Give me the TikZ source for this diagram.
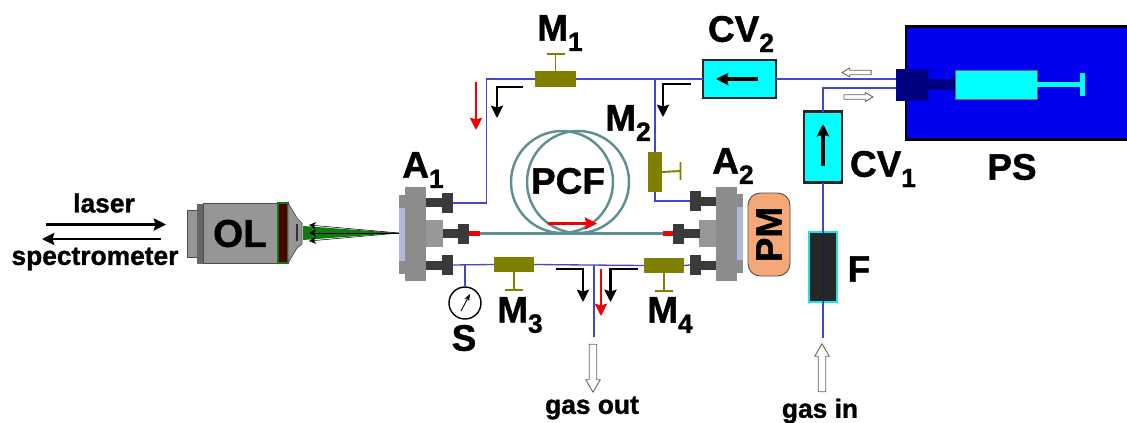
\documentclass[tikz,border=0pt]{standalone}
\usepackage{fontspec}
\setmainfont[BoldFeatures={FakeBold=1.2}]{Liberation Sans}
\usetikzlibrary{shapes.arrows, arrows.meta, positioning, calc}

\definecolor{tube}{HTML}{4646C8}
\definecolor{fibre}{HTML}{5F8F8F}
\definecolor{olive2}{HTML}{808000}
\definecolor{darkport}{HTML}{3A3A3A}
\definecolor{flangegray}{HTML}{8C8C8C}
\definecolor{window}{HTML}{B0BAD8}
\definecolor{pumpblue}{HTML}{0000F0}
\definecolor{pmorange}{HTML}{F4A878}
\definecolor{lensgreen}{HTML}{0F7A0F}
\definecolor{brightcyan}{HTML}{00FFFF}
\definecolor{pure red}{HTML}{F00000}
\definecolor{bodygray}{HTML}{969696}

\newcommand{\withsub}[2]{#1\raisebox{-0.28em}{\fontsize{15}{15}\selectfont #2}}

\begin{document}
\begin{tikzpicture}[
    x=0.02cm, y=-0.02cm,
    font=\fontsize{21}{21}\selectfont\bfseries,
    size/.style 2 args={rectangle, inner sep=0pt, outer sep=0pt, minimum width=#1*0.02cm, minimum height=#2*0.02cm},
    valve/.style={fill=olive2},
    check/.style={draw=black!85, line width=1.5pt, fill=brightcyan},
    head/.style={size={11}{20}, fill=darkport},
    shaft/.style={size={16}{9}, fill=darkport},
    flange/.style={size={21}{94}, fill=flangegray},
    plate/.style={size={6}{79}, fill=flangegray},
    glass/.style={size={6}{53}, fill=window},
    stepblock/.style={size={17}{27}, fill=flangegray!90},
    pipe/.style={draw=tube, line width=0.75pt},
    handle/.style={draw=olive2, line width=1.1pt},
    fibreline/.style={draw=fibre, line width=1.4pt},
    arrow/.style={-{Stealth[length=7pt,width=7pt,inset=1pt]}, line width=1.2pt},
    redarrow/.style={arrow, draw=pure red, fill=pure red},
    small/.style={font=\fontsize{15}{15}\selectfont\bfseries},
    hollow/.style={single arrow, draw=black!60, fill=white, line width=0.5pt, single arrow tip angle=60, single arrow head extend=3.5*0.02cm, inner sep=3.3*0.02cm, outer sep=0pt, minimum width=13.6*0.02cm}
]
\useasboundingbox (0,0) rectangle (1127,423);

% Objective
\node[size={10}{47}, fill=bodygray, draw=black!70, line width=0.4pt] (cap) at (192,233.5) {};
\node[size={6}{60}, fill=black!60, right=0pt of cap.east] (collar) {};
\node[size={74}{60}, fill=bodygray, draw=black!70, line width=0.4pt, right=0pt of collar.east, text=black, font=\fontsize{22}{22}\selectfont\bfseries] (OL) {OL};
\node[size={10}{60}, fill=black!70!red, draw=lensgreen, line width=0.8pt] (ring) at (283,233) {};
\draw[fill=bodygray, draw=black!70, line width=0.4pt] (ring.north east) -- (297,218) -- (302,223) -- (302,244) -- (297,248) -- (ring.south east) -- cycle;
\node[size={1.5}{17}, fill=black!80] (nose) at (297,232) {};

% Focused beam
\coordinate (focus) at (399,233);
\coordinate (beamtop) at (303,226);
\coordinate (beambot) at (303,240);
\fill[white] (beamtop) -- (309,224) -- (focus) -- (309,242) -- (beambot) -- cycle;
\fill[lensgreen] (beamtop) -- (focus) -- (beambot) -- cycle;
\draw[-{Stealth[length=4pt,width=4pt]}, line width=0.3pt] (focus) -- (309,225);
\draw[-{Stealth[length=4pt,width=4pt]}, line width=0.3pt] (focus) -- (309,233);
\draw[-{Stealth[length=4pt,width=4pt]}, line width=0.3pt] (focus) -- (309,241);

% Laser and spectrometer
\node[small] (laser) at (104,203) {laser};
\node[small] (spectrometer) at (95,259) {spectrometer};
\coordinate (laserin) at (46,224.5);
\coordinate (laserend) at (166,224.5);
\coordinate (specin) at (161,239);
\coordinate (specend) at (42,239);
\draw[arrow] (laserin) -- (laserend);
\draw[arrow] (specin) -- (specend);

% Input cell
\node[flange] (flangeA) at (415.5,234) {};
\node[plate, left=0pt of flangeA] (plateA) {};
\node[glass, left=0pt of flangeA] (glassA) {};
\node[stepblock] (stepA) at (434.5,233.5) {};
\node[shaft] (shaftA1) at (434,202) {};
\node[head] (portA1) at (447,203) {};
\node[shaft] (shaftA2) at (451,233.5) {};
\node[head] (portA2) at (463.5,234) {};
\node[shaft] (shaftA3) at (434,265.5) {};
\node[head] (portA3) at (447,265) {};
\node (labA1) at (423,170) {\withsub{A}{1}};

% Output cell
\node[flange] (flangeB) at (726.5,233.5) {};
\node[plate, right=0pt of flangeB] (plateB) {};
\node[glass, right=0pt of flangeB] (glassB) {};
\node[stepblock] (stepB) at (707.5,233.5) {};
\node[shaft] (shaftB1) at (708,201.5) {};
\node[head] (portB1) at (695.5,201) {};
\node[shaft] (shaftB2) at (691.5,233.5) {};
\node[head] (portB2) at (678.5,234) {};
\node[shaft] (shaftB3) at (708,265.5) {};
\node[head] (portB3) at (695.5,265) {};
\node (labA2) at (733,166) {\withsub{A}{2}};
\node[size={42}{83}, rounded corners=7pt, fill=pmorange, draw=black!70, line width=0.5pt] (PM) at (769,234.5) {\rotatebox{90}{PM}};

% Fibre
\node[size={11}{5}, fill=pure red] (spliceA) at (474.5,233.5) {};
\node[size={10}{5}, fill=pure red] (spliceB) at (668,233.5) {};
\draw[fibreline] (spliceA.east) -- (spliceB.west);
\node[circle, draw=fibre, line width=1.4pt, inner sep=0pt, minimum size=102*0.02cm] (loopA) at (562,182) {};
\node[circle, draw=fibre, line width=1.4pt, inner sep=0pt, minimum size=102*0.02cm] (loopB) at (578,182) {};
\node (PCF) at (568,181) {PCF};
\coordinate (fibrein) at (548,223.5);
\coordinate (fibreout) at (597,223.5);
\draw[redarrow] (fibrein) -- (fibreout);

% Valves
\node[size={41}{16}, valve] (M1) at (555.5,79) {};
\node[size={14}{40}, valve] (M2) at (655,172) {};
\node[size={40}{15}, valve] (M3) at (514,264.5) {};
\node[size={40}{15}, valve] (M4) at (664,265.5) {};
\coordinate (knobM1) at (555.5,54);
\coordinate (knobM2) at (680.5,171);
\coordinate (knobM3) at (514,290);
\coordinate (knobM4) at (664,291);
\draw[handle] (M1.north) -- (knobM1) ($(knobM1)+(-9,0)$) -- ($(knobM1)+(9,0)$);
\draw[handle] (M2.east) -- (knobM2) ($(knobM2)+(0,-9)$) -- ($(knobM2)+(0,9)$);
\draw[handle] (M3.south) -- (knobM3) ($(knobM3)+(-9,0)$) -- ($(knobM3)+(9,0)$);
\draw[handle] (M4.south) -- (knobM4) ($(knobM4)+(-9,0)$) -- ($(knobM4)+(9,0)$);
\node (labM1) at (560,33) {\withsub{M}{1}};
\node (labM2) at (628,123) {\withsub{M}{2}};
\node (labM3) at (520,315) {\withsub{M}{3}};
\node (labM4) at (670,315) {\withsub{M}{4}};

% Check valves
\node[size={73}{38}, check] (CV2) at (739.5,79) {};
\node[size={38}{71}, check] (CV1) at (823,147) {};
\draw[arrow, line width=2pt] ($(CV2)+(18.5,0)$) -- ($(CV2)+(-23.5,0)$);
\draw[arrow, line width=2pt] ($(CV1)+(0,19)$) -- ($(CV1)+(0,-23)$);
\node (labCV2) at (741,34) {\withsub{CV}{2}};
\node (labCV1) at (883,169) {\withsub{CV}{1}};

% Filter
\node[size={28}{70}, fill=black!85, draw=brightcyan!80!gray, line width=0.6pt] (F) at (823,267) {};
\draw[tube!40!black, line width=0.4pt] (F.north) -- (F.south);
\node (labF) at (859,269) {F};

% Pump
\node[size={226}{113}, fill=pumpblue, draw=black, line width=1.6pt] (PS) at (1019,83) {};
\node[size={32}{31}, fill=blue!50!black, draw=blue!70!black, line width=0.4pt] (pumphead) at (912,84.5) {};
\node[size={27}{11}, fill=blue!50!black, right=0pt of pumphead.east] (neck) {};
\node[size={82}{29}, fill=brightcyan, draw=black!60, line width=0.3pt, right=0pt of neck.east] (syringe) {};
\node[size={43}{5}, fill=brightcyan, right=0pt of syringe.east] (rod) {};
\node[size={5}{23}, fill=brightcyan, right=0pt of rod.east] (plunger) {};
\node (labPS) at (1012,167) {PS};

% Tubing
\coordinate (teeTop) at (655,79.5);
\coordinate (teeBot) at (594,265);
\coordinate (gasend) at (594,337);
\coordinate (gasstart) at (823,338);
\draw[pipe] (portA1.east) -- ($(portA1.east)+(34,0)$) |- (M1.west);
\draw[pipe] (M1.east) -- (CV2.west);
\draw[pipe] (CV2.east) -- (CV2.east -| pumphead.west);
\draw[pipe] (teeTop) -- (M2.north);
\draw[pipe] (M2.south) |- (portB1.west);
\draw[pipe] (portA3.east) -- (M3.west);
\draw[pipe] (M3.east) -- (M4.west);
\draw[pipe] (M4.east) -- (portB3.west);
\draw[pipe] (teeBot) -- (gasend);
\coordinate (pumpin) at (896,88);
\draw[pipe] (pumpin) -| (CV1.north);
\draw[pipe] (CV1.south) -- (F.north);
\draw[pipe] (F.south) -- (gasstart);

% Pressure gauge
\node[circle, draw=black, line width=0.8pt, fill=white, inner sep=0pt, minimum size=32*0.02cm] (S) at (465,303) {};
\coordinate (teeS) at (465,265);
\draw[pipe] (teeS) -- (S.north);
\coordinate (needlefoot) at (461,311);
\coordinate (needletip) at (470,294);
\draw[-{Stealth[length=4pt,width=3pt]}, line width=0.5pt] (needlefoot) -- (needletip);
\node (labS) at (464,338) {S};

% Flow arrows
\coordinate (flowA) at (523,87);
\coordinate (flowAend) at (497,118);
\coordinate (flowB) at (691,84);
\coordinate (flowBend) at (663,117);
\coordinate (flowC) at (556,269);
\coordinate (flowCend) at (583,302);
\coordinate (flowD) at (638,269);
\coordinate (flowDend) at (610.5,302);
\draw[arrow] (flowA) -| (flowAend);
\draw[arrow] (flowB) -| (flowBend);
\draw[arrow] (flowC) -| (flowCend);
\draw[arrow] (flowD) -| (flowDend);
\coordinate (redA) at (476,82);
\coordinate (redAend) at (476,130);
\coordinate (redB) at (601,269);
\coordinate (redBend) at (601,316);
\draw[redarrow] (redA) -- (redAend);
\draw[redarrow] (redB) -- (redBend);

% Gas in and out
\node[hollow, shape border rotate=270, minimum height=48*0.02cm] (gasoutarrow) at (593,365) {};
\node[hollow, shape border rotate=90, minimum height=48*0.02cm] (gasinarrow) at (822,371) {};
\node[small] (gasout) at (592,408) {gas out};
\node[small] (gasin) at (820,411) {gas in};
\node[hollow, shape border rotate=180, minimum height=29*0.02cm, minimum width=8*0.02cm, inner sep=1.8*0.02cm, single arrow head extend=2.2*0.02cm] (pumpout) at (858.5,72.5) {};
\node[hollow, minimum height=29*0.02cm, minimum width=8*0.02cm, inner sep=1.8*0.02cm, single arrow head extend=2.2*0.02cm] (pumpback) at (856.5,97) {};

\end{tikzpicture}
\end{document}
